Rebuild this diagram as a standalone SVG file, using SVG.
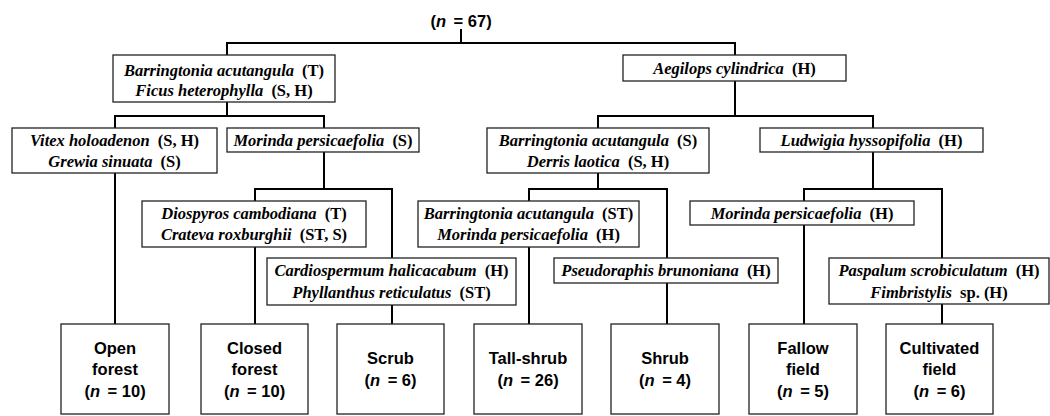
<svg xmlns="http://www.w3.org/2000/svg" width="1050" height="416" viewBox="0 0 1050 416">
<style>
.box{fill:#fff;stroke:#222;stroke-width:1.3}
.sp{font-family:"Liberation Serif","Times New Roman",serif;font-size:16.5px;font-weight:bold;text-anchor:middle;fill:#000}
.sp .i{font-style:italic}
.lb{font-family:"Liberation Sans",Arial,sans-serif;font-size:16.5px;font-weight:bold;text-anchor:middle;fill:#000}
.lb .i{font-style:italic}
.con{fill:none;stroke:#000;stroke-width:2}
</style>
<rect width="1050" height="416" fill="#fff"/>
<g id="connectors" class="con">
<path d="M461,29V43M227,55V43H735V55"/>
<path d="M227,102V116M115,128V116H324V128"/>
<path d="M115,173V324"/>
<path d="M324,152V189M255,201V189H392V258"/>
<path d="M255,247V324"/>
<path d="M392,305V324"/>
<path d="M735,81V116M598,128V116H873V128"/>
<path d="M598,173V189M529,201V189H667V258"/>
<path d="M529,247V324"/>
<path d="M667,283V324"/>
<path d="M873,152V189M804,201V189H942V258"/>
<path d="M804,225V324"/>
<path d="M942,304V324"/>
</g>
<g id="root"><text class="lb" x="461" y="27">(<tspan class="i">n</tspan><tspan dx="3"> = 67)</tspan></text></g>
<g id="nA"><rect class="box" x="113" y="55" width="222" height="47"/>
<text class="sp" x="224" y="76"><tspan class="i">Barringtonia acutangula</tspan><tspan dx="4"> (T)</tspan></text>
<text class="sp" x="224" y="96"><tspan class="i">Ficus heterophylla</tspan><tspan dx="4"> (S, H)</tspan></text></g>
<g id="nB"><rect class="box" x="623" y="55" width="223" height="26"/>
<text class="sp" x="734.5" y="74"><tspan class="i">Aegilops cylindrica</tspan><tspan dx="4"> (H)</tspan></text></g>
<g id="nC"><rect class="box" x="12" y="128" width="205" height="45"/>
<text class="sp" x="114.5" y="146"><tspan class="i">Vitex holoadenon</tspan><tspan dx="4"> (S, H)</tspan></text>
<text class="sp" x="114.5" y="167"><tspan class="i">Grewia sinuata</tspan><tspan dx="4"> (S)</tspan></text></g>
<g id="nD"><rect class="box" x="227" y="128" width="192" height="24"/>
<text class="sp" x="323" y="146"><tspan class="i">Morinda persicaefolia</tspan><tspan dx="4"> (S)</tspan></text></g>
<g id="nE"><rect class="box" x="487" y="128" width="222" height="45"/>
<text class="sp" x="598" y="146"><tspan class="i">Barringtonia acutangula</tspan><tspan dx="4"> (S)</tspan></text>
<text class="sp" x="598" y="167"><tspan class="i">Derris laotica</tspan><tspan dx="4"> (S, H)</tspan></text></g>
<g id="nF"><rect class="box" x="760" y="128" width="223" height="24"/>
<text class="sp" x="871.5" y="146"><tspan class="i">Ludwigia hyssopifolia</tspan><tspan dx="4"> (H)</tspan></text></g>
<g id="nG"><rect class="box" x="142" y="201" width="224" height="46"/>
<text class="sp" x="254" y="219"><tspan class="i">Diospyros cambodiana</tspan><tspan dx="4"> (T)</tspan></text>
<text class="sp" x="254" y="240"><tspan class="i">Crateva roxburghii</tspan><tspan dx="4"> (ST, S)</tspan></text></g>
<g id="nH"><rect class="box" x="418" y="201" width="221" height="46"/>
<text class="sp" x="528.5" y="219"><tspan class="i">Barringtonia acutangula</tspan><tspan dx="4"> (ST)</tspan></text>
<text class="sp" x="528.5" y="240"><tspan class="i">Morinda persicaefolia</tspan><tspan dx="4"> (H)</tspan></text></g>
<g id="nI"><rect class="box" x="690" y="201" width="224" height="24"/>
<text class="sp" x="802" y="219"><tspan class="i">Morinda persicaefolia</tspan><tspan dx="4"> (H)</tspan></text></g>
<g id="nJ"><rect class="box" x="267" y="258" width="249" height="47"/>
<text class="sp" x="391.5" y="276"><tspan class="i">Cardiospermum halicacabum</tspan><tspan dx="4"> (H)</tspan></text>
<text class="sp" x="391.5" y="298"><tspan class="i">Phyllanthus reticulatus</tspan><tspan dx="4"> (ST)</tspan></text></g>
<g id="nK"><rect class="box" x="554" y="258" width="224" height="25"/>
<text class="sp" x="666" y="276"><tspan class="i">Pseudoraphis brunoniana</tspan><tspan dx="4"> (H)</tspan></text></g>
<g id="nL"><rect class="box" x="829" y="258" width="220" height="46"/>
<text class="sp" x="939" y="276"><tspan class="i">Paspalum scrobiculatum</tspan><tspan dx="4"> (H)</tspan></text>
<text class="sp" x="939" y="298"><tspan class="i">Fimbristylis</tspan><tspan dx="4"> sp. (H)</tspan></text></g>
<g id="open"><rect class="box" x="61" y="324" width="108" height="90"/>
<text class="lb" x="115" y="354">Open</text><text class="lb" x="115" y="375">forest</text>
<text class="lb" x="115" y="397">(<tspan class="i">n</tspan><tspan dx="3"> = 10)</tspan></text></g>
<g id="closed"><rect class="box" x="201" y="324" width="107" height="90"/>
<text class="lb" x="254.5" y="354">Closed</text><text class="lb" x="254.5" y="375">forest</text>
<text class="lb" x="254.5" y="397">(<tspan class="i">n</tspan><tspan dx="3"> = 10)</tspan></text></g>
<g id="scrub"><rect class="box" x="337" y="324" width="107" height="90"/>
<text class="lb" x="390.5" y="364">Scrub</text>
<text class="lb" x="390.5" y="386">(<tspan class="i">n</tspan><tspan dx="3"> = 6)</tspan></text></g>
<g id="tallshrub"><rect class="box" x="474" y="324" width="108" height="90"/>
<text class="lb" x="528" y="364">Tall-shrub</text>
<text class="lb" x="528" y="386">(<tspan class="i">n</tspan><tspan dx="3"> = 26)</tspan></text></g>
<g id="shrub"><rect class="box" x="611" y="324" width="108" height="90"/>
<text class="lb" x="665" y="364">Shrub</text>
<text class="lb" x="665" y="386">(<tspan class="i">n</tspan><tspan dx="3"> = 4)</tspan></text></g>
<g id="fallow"><rect class="box" x="749" y="324" width="108" height="90"/>
<text class="lb" x="803" y="354">Fallow</text><text class="lb" x="803" y="375">field</text>
<text class="lb" x="803" y="397">(<tspan class="i">n</tspan><tspan dx="3"> = 5)</tspan></text></g>
<g id="cultivated"><rect class="box" x="886" y="324" width="107" height="90"/>
<text class="lb" x="939.5" y="354">Cultivated</text><text class="lb" x="939.5" y="375">field</text>
<text class="lb" x="939.5" y="397">(<tspan class="i">n</tspan><tspan dx="3"> = 6)</tspan></text></g>
</svg>
